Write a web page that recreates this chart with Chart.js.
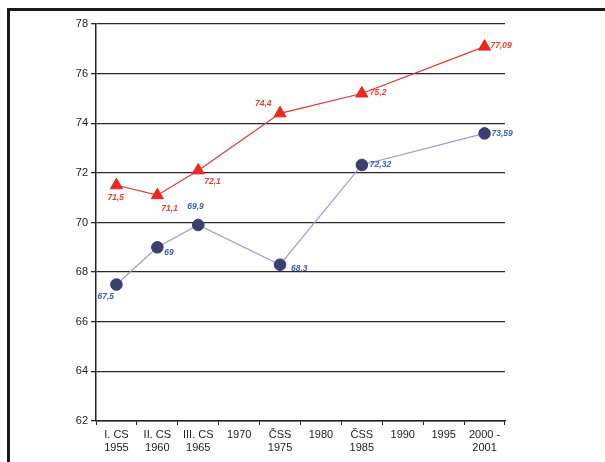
<!DOCTYPE html>
<html>
<head>
<meta charset="utf-8">
<script src="https://cdn.jsdelivr.net/npm/chart.js@4"></script>
<style>
  body { margin: 0; background: #fff; }
  #wrap { position: relative; width: 605px; height: 462px; overflow: hidden; }
  #frame {
    position: absolute; left: 7px; top: 8px; width: 700px; height: 600px;
    border-top: 3px solid #1a1a1a; border-left: 3px solid #1a1a1a;
  }
  canvas { position: absolute; left: 0; top: 0; }
</style>
</head>
<body>
<div id="wrap">
  <div id="frame"></div>
  <canvas id="chart" width="605" height="462"></canvas>
</div>
<script>
// categories (x axis)
var kategorie = [
  ["I. CS", "1955"], ["II. CS", "1960"], ["III. CS", "1965"], "1970",
  ["ČSS", "1975"], "1980", ["ČSS", "1985"], "1990", "1995", ["2000 -", "2001"]
];
// red series (triangles)
var cervena = [71.5, 71.1, 72.1, null, 74.4, null, 75.2, null, null, 77.09];
// blue series (circles)
var modra = [67.5, 69, 69.9, null, 68.3, null, 72.32, null, null, 73.59];
// y ticks
var yMin = 62, yMax = 78, yKrok = 2;

// where the value labels sit, relative to the point [dx, dy, align]
var cervenaPopisky = [[-9, 12, "left"], [4, 13, "left"], [6, 11, "left"], null, [-25, -10, "left"], null, [8, -1, "left"], null, null, [6, -1, "left"]];
var modraPopisky = [[-19, 12, "left"], [7, 5, "left"], [-11, -18, "left"], null, [11, 4, "left"], null, [8, 0, "left"], null, null, [7, 0, "left"]];

function cislo(v) {
  return String(v).replace(".", ",");
}

var popisky = {
  id: "popisky",
  afterDatasetsDraw: function (chart) {
    var ctx = chart.ctx;
    ctx.save();
    ctx.font = "italic bold 8.5px 'Liberation Sans', Arial, sans-serif";
    ctx.textBaseline = "middle";
    chart.data.datasets.forEach(function (ds, i) {
      var meta = chart.getDatasetMeta(i);
      var pos = i === 0 ? cervenaPopisky : modraPopisky;
      ctx.fillStyle = ds.popisekBarva;
      meta.data.forEach(function (el, j) {
        if (ds.data[j] == null || !pos[j]) return;
        ctx.textAlign = pos[j][2];
        ctx.fillText(cislo(ds.data[j]), el.x + pos[j][0], el.y + pos[j][1]);
      });
    });
    ctx.restore();
  }
};

new Chart(document.getElementById("chart"), {
  type: "line",
  data: {
    labels: kategorie,
    datasets: [
      {
        label: "cervena",
        data: cervena,
        borderColor: "#e0362e",
        borderWidth: 1.2,
        pointStyle: "triangle",
        pointRadius: 7,
        pointBackgroundColor: "#e8291f",
        pointBorderColor: "#e8291f",
        pointBorderWidth: 1,
        spanGaps: true,
        popisekBarva: "#e8402f"
      },
      {
        label: "modra",
        data: modra,
        borderColor: "#9d9bd4",
        borderWidth: 1.2,
        pointStyle: "circle",
        pointRadius: 5.8,
        pointBackgroundColor: "#3b3e6e",
        pointBorderColor: "#3b3e6e",
        pointBorderWidth: 1,
        spanGaps: true,
        popisekBarva: "#3d62aa"
      }
    ]
  },
  options: {
    responsive: false,
    animation: false,
    layout: { padding: { top: 24, right: 100, left: 0, bottom: 0 } },
    plugins: {
      legend: { display: false },
      tooltip: { enabled: false }
    },
    scales: {
      x: {
        offset: true,
        afterFit: function (s) { s.height = 41; },
        grid: { offset: true, drawOnChartArea: false, tickLength: 4, color: "#222", lineWidth: 1 },
        border: { display: true, color: "#222", width: 1.5 },
        ticks: {
          autoSkip: false, maxRotation: 0, padding: 3,
          color: "#222", font: { family: "'Liberation Sans', Arial", size: 11 }
        }
      },
      y: {
        min: yMin, max: yMax,
        afterFit: function (s) { s.width = 96; },
        grid: { color: "#2a2a2a", lineWidth: 1.3, tickLength: 5 },
        border: { display: true, color: "#222", width: 1.5 },
        ticks: {
          stepSize: yKrok, padding: 3,
          color: "#222", font: { family: "'Liberation Sans', Arial", size: 11 }
        }
      }
    }
  },
  plugins: [popisky]
});
</script>
</body>
</html>
